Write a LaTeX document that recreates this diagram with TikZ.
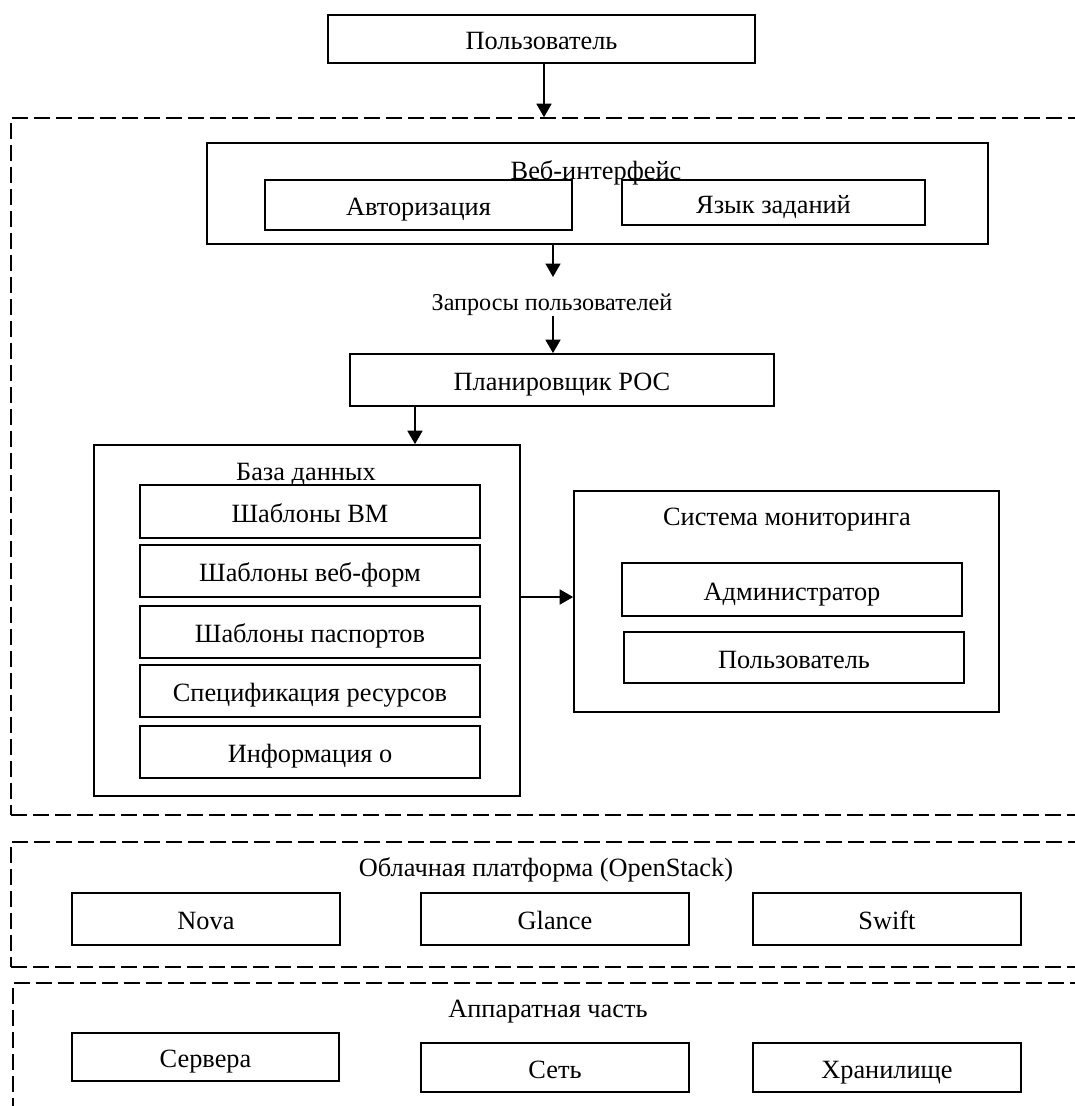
\documentclass[tikz,border=0pt]{standalone}
\usepackage{fontspec}
\setmainfont{Liberation Serif}
\usetikzlibrary{arrows.meta}

\begin{document}
\begin{tikzpicture}[x=0.02cm, y=-0.02cm,
    font=\fontsize{15}{18}\selectfont,
    blocco/.style = {draw, line width=1pt, inner sep=0pt, text height=13.5pt, text depth=1.5pt},
    etichetta/.style = {inner sep=0pt},
    livello/.style = {draw, line width=1pt, dash pattern=on 0.32cm off 0.12cm, inner sep=0pt, minimum width=21.58cm},
    freccia/.style = {-{Triangle[length=0.27cm, width=0.3cm]}, line width=1pt}]
    % Cornice
    \clip (0,0) rectangle (1075,1106);

    % Livelli tratteggiati
    \node[livello, minimum height=13.94cm] (software) at (550.5,466.5) {};
    \node[livello, minimum height=2.5cm] (cloud) at (550.5,904.5) {};
    \node[livello, minimum height=2.94cm] (hardware) at (552.5,1056.5) {};

    % Utente
    \node[blocco, minimum width=8.54cm, minimum height=0.96cm] (utente) at (541.5,39) {Пользователь};

    % Interfaccia web
    \node[blocco, minimum width=15.62cm, minimum height=2.02cm] (web) at (597.5,193.5) {};
    \node[etichetta] (webtitolo) at (596,173) {Веб-интерфейс};
    \node[blocco, minimum width=6.14cm, minimum height=1cm] (auth) at (418.5,205) {Авторизация};
    \node[blocco, minimum width=6.06cm, minimum height=0.9cm] (lingua) at (773.5,202.5) {Язык заданий};

    \coordinate (fineweb) at (553,277);
    \node[etichetta, font=\fontsize{13.75}{16}\selectfont] (richieste) at (552,305) {Запросы пользователей};

    % Pianificatore
    \node[blocco, minimum width=8.48cm, minimum height=1.04cm] (planner) at (562,380) {Планировщик РОС};

    % Base di dati
    \node[blocco, minimum width=8.52cm, minimum height=7.02cm] (db) at (307,620.5) {};
    \node[etichetta] (dbtitolo) at (306,474) {База данных};
    \node[blocco, minimum width=6.8cm, minimum height=1.06cm] (vm) at (310,511.5) {Шаблоны ВМ};
    \node[blocco, minimum width=6.8cm, minimum height=1.04cm] (forme) at (310,571) {Шаблоны веб-форм};
    \node[blocco, minimum width=6.8cm, minimum height=1.04cm] (passaporti) at (310,632) {Шаблоны паспортов};
    \node[blocco, minimum width=6.8cm, minimum height=1.04cm] (risorse) at (310,691) {Спецификация ресурсов};
    \node[blocco, minimum width=6.8cm, minimum height=1.04cm] (info) at (310,752) {Информация о};

    % Monitoraggio
    \node[blocco, minimum width=8.5cm, minimum height=4.42cm] (monitor) at (786.5,601.5) {};
    \node[etichetta] (montitolo) at (787,520) {Система мониторинга};
    \node[blocco, minimum width=6.8cm, minimum height=1.06cm] (admin) at (792,589.5) {Администратор};
    \node[blocco, minimum width=6.8cm, minimum height=1.02cm] (utente2) at (794,657.5) {Пользователь};

    % Piattaforma cloud
    \node[etichetta] (cloudtitolo) at (546,870) {Облачная платформа (OpenStack)};
    \node[blocco, minimum width=5.36cm, minimum height=1.04cm] (nova) at (206,919) {Nova};
    \node[blocco, minimum width=5.36cm, minimum height=1.04cm] (glance) at (555,919) {Glance};
    \node[blocco, minimum width=5.36cm, minimum height=1.04cm] (swift) at (887,919) {Swift};

    % Hardware
    \node[etichetta] (hwtitolo) at (548,1012) {Аппаратная часть};
    \node[blocco, minimum width=5.34cm, minimum height=0.96cm] (server) at (205.5,1057) {Сервера};
    \node[blocco, minimum width=5.36cm, minimum height=0.98cm] (rete) at (555,1067.5) {Сеть};
    \node[blocco, minimum width=5.36cm, minimum height=0.98cm] (storage) at (887,1067.5) {Хранилище};

    % Frecce
    \draw[freccia] ([xshift=0.05cm]utente.south) -- ([xshift=0.05cm]utente.south |- software.north);
    \draw[freccia] (web.south -| fineweb) -- (fineweb);
    \draw[freccia] ([xshift=0.02cm]richieste.south) -- ([xshift=0.02cm]richieste.south |- planner.north);
    \draw[freccia] ([xshift=2.16cm]db.north |- planner.south) -- ([xshift=2.16cm]db.north);
    \draw[freccia] ([yshift=0.47cm]db.east) -- ([yshift=0.47cm]db.east -| monitor.west);
\end{tikzpicture}
\end{document}
